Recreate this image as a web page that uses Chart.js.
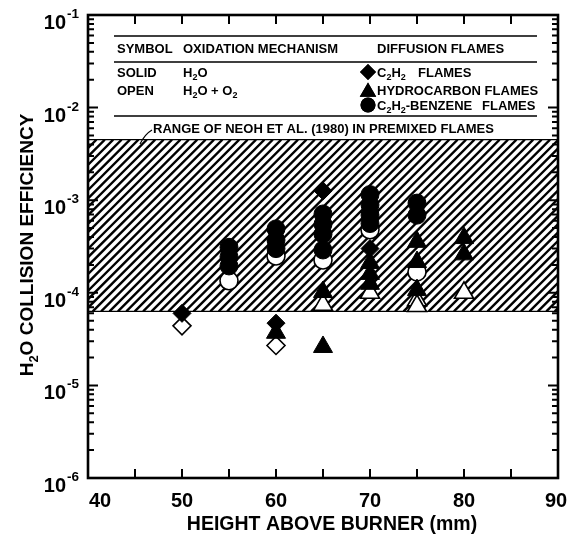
<!DOCTYPE html>
<html>
<head>
<meta charset="utf-8">
<script src="https://cdn.jsdelivr.net/npm/chart.js@4.4.0/dist/chart.umd.min.js"></script>
<style>
  html, body { margin: 0; padding: 0; background: #fff; }
</style>
</head>
<body>
<canvas id="chart" width="576" height="539"></canvas>
<script>
/* Axis ranges and ticks */
const X_RANGE = [40, 90];
const X_LABELS = [40, 50, 60, 70, 80, 90];
const X_TICKS = [45, 50, 55, 60, 65, 70, 75, 80, 85];
const Y_DECADES = [-6, -5, -4, -3, -2, -1];

/* Neoh et al. (1980) premixed-flame range, shown hatched */
const NEOH_RANGE = [6.3e-5, 4.5e-3];

/* C2H2 flames (diamonds) */
const c2h2SolidX = [50, 60, 65, 70];
const c2h2SolidY = [6.0e-5, 4.7e-5, 1.26e-3, 3.0e-4];
const c2h2OpenX = [50, 60];
const c2h2OpenY = [4.4e-5, 2.7e-5];

/* Hydrocarbon flames (triangles) */
const hcSolidX = [60, 65, 65, 70, 70, 70, 75, 75, 75, 80, 80];
const hcSolidY = [3.7e-5, 1.02e-4, 2.6e-5, 2.1e-4, 1.6e-4, 1.25e-4, 3.55e-4, 2.15e-4, 1.07e-4, 3.9e-4, 2.6e-4];
const hcOpenX = [65, 70, 75, 75, 80];
const hcOpenY = [7.4e-5, 1.0e-4, 8.3e-5, 7.2e-5, 1.0e-4];

/* C2H2-benzene flames (circles) */
const bzSolidX = [55, 55, 55, 60, 60, 60, 65, 65, 65, 65, 70, 70, 70, 70, 75, 75];
const bzSolidY = [3.1e-4, 2.45e-4, 1.95e-4, 4.9e-4, 3.7e-4, 3.0e-4, 7.1e-4, 5.5e-4, 4.3e-4, 2.9e-4, 1.15e-3, 8.9e-4, 6.9e-4, 5.6e-4, 9.3e-4, 6.9e-4];
const bzOpenX = [55, 60, 65, 70, 75];
const bzOpenY = [1.35e-4, 2.5e-4, 2.26e-4, 4.8e-4, 1.68e-4];

const FONT = '"Liberation Sans", Arial, sans-serif';

function pts(xs, ys) {
    return xs.map((x, i) => ({ x: x, y: ys[i] }));
}

function series(label, xs, ys, style, radius, solid) {
    return {
        label: label,
        data: pts(xs, ys),
        pointStyle: style,
        pointRadius: radius,
        backgroundColor: solid ? '#000' : '#fff',
        borderColor: '#000',
        borderWidth: solid ? 1 : 1.6,
        showLine: false
    };
}

/* draw text made of parts: [text, 0 normal | 1 subscript | 2 superscript] */
function richText(ctx, x, y, parts, size, align) {
    const small = Math.round(size * 0.68);
    let total = 0;
    parts.forEach(p => {
        ctx.font = `bold ${p[1] ? small : size}px ${FONT}`;
        total += ctx.measureText(p[0]).width;
    });
    let cx = x;
    if (align === 'center') cx = x - total / 2;
    if (align === 'right') cx = x - total;
    ctx.textAlign = 'left';
    ctx.textBaseline = 'alphabetic';
    parts.forEach(p => {
        ctx.font = `bold ${p[1] ? small : size}px ${FONT}`;
        let dy = 0;
        if (p[1] === 1) dy = size * 0.25;
        if (p[1] === 2) dy = -size * 0.45;
        ctx.fillText(p[0], cx, y + dy);
        cx += ctx.measureText(p[0]).width;
    });
}

function marker(ctx, style, x, y, r) {
    ctx.save();
    ctx.fillStyle = '#000';
    Chart.helpers.drawPoint(ctx, { pointStyle: style, radius: r, borderWidth: 0 }, x, y);
    ctx.fill();
    ctx.restore();
}

const paperPlugin = {
    id: 'paper',
    beforeDatasetsDraw(chart) {
        const { ctx, chartArea: a, scales: { y } } = chart;

        /* hatched band */
        const top = y.getPixelForValue(NEOH_RANGE[1]);
        const bot = y.getPixelForValue(NEOH_RANGE[0]);
        const h = bot - top;
        ctx.save();
        ctx.beginPath();
        ctx.rect(a.left, top, a.right - a.left, h);
        ctx.clip();
        ctx.strokeStyle = '#000';
        ctx.lineWidth = 2.4;
        for (let sx = a.left - h; sx < a.right + 10; sx += 8.4) {
            ctx.beginPath();
            ctx.moveTo(sx, bot);
            ctx.lineTo(sx + h, top);
            ctx.stroke();
        }
        ctx.restore();
        ctx.save();
        ctx.strokeStyle = '#000';
        ctx.lineWidth = 1.2;
        ctx.beginPath();
        ctx.moveTo(a.left, top); ctx.lineTo(a.right, top);
        ctx.moveTo(a.left, bot); ctx.lineTo(a.right, bot);
        ctx.stroke();

        /* legend table */
        ctx.fillStyle = '#000';
        ctx.lineWidth = 1.6;
        ctx.beginPath();
        [36, 62, 116].forEach(ry => { ctx.moveTo(114, ry); ctx.lineTo(537, ry); });
        ctx.stroke();

        const fs = 13;
        richText(ctx, 117, 53, [['SYMBOL', 0]], fs, 'left');
        richText(ctx, 183, 53, [['OXIDATION MECHANISM', 0]], fs, 'left');
        richText(ctx, 377, 53, [['DIFFUSION FLAMES', 0]], fs, 'left');

        richText(ctx, 117, 77, [['SOLID', 0]], fs, 'left');
        richText(ctx, 183, 77, [['H', 0], ['2', 1], ['O', 0]], fs, 'left');
        richText(ctx, 117, 95, [['OPEN', 0]], fs, 'left');
        richText(ctx, 183, 95, [['H', 0], ['2', 1], ['O + O', 0], ['2', 1]], fs, 'left');

        marker(ctx, 'rectRot', 368, 72, 8);
        richText(ctx, 377, 77, [['C', 0], ['2', 1], ['H', 0], ['2', 1]], fs, 'left');
        richText(ctx, 418, 77, [['FLAMES', 0]], fs, 'left');
        marker(ctx, 'triangle', 368, 92, 9.5);
        richText(ctx, 377, 95, [['HYDROCARBON FLAMES', 0]], fs, 'left');
        marker(ctx, 'circle', 368, 105, 7.5);
        richText(ctx, 377, 110, [['C', 0], ['2', 1], ['H', 0], ['2', 1], ['-BENZENE', 0]], fs, 'left');
        richText(ctx, 482, 110, [['FLAMES', 0]], fs, 'left');

        richText(ctx, 153, 133, [['RANGE OF NEOH ET AL. (1980) IN PREMIXED FLAMES', 0]], fs, 'left');
        ctx.lineWidth = 1.2;
        ctx.beginPath();
        ctx.moveTo(152, 130);
        ctx.quadraticCurveTo(145, 134, 140, 144);
        ctx.stroke();
        ctx.restore();
    },
    afterDatasetsDraw(chart) {
        const { ctx, chartArea: a, scales: { x, y } } = chart;
        ctx.save();
        ctx.strokeStyle = '#000';
        ctx.fillStyle = '#000';

        /* ticks, pointing inward */
        ctx.lineWidth = 2;
        ctx.beginPath();
        X_TICKS.forEach(v => {
            const px = x.getPixelForValue(v);
            ctx.moveTo(px, a.bottom); ctx.lineTo(px, a.bottom - 9);
            ctx.moveTo(px, a.top); ctx.lineTo(px, a.top + 9);
        });
        Y_DECADES.forEach(d => {
            for (let m = 1; m <= 9; m++) {
                const v = m * Math.pow(10, d);
                if (d === -1 && m > 1) break;
                const py = y.getPixelForValue(v);
                const len = m === 1 ? 10 : 6;
                ctx.moveTo(a.left, py); ctx.lineTo(a.left + len, py);
                ctx.moveTo(a.right, py); ctx.lineTo(a.right - len, py);
            }
        });
        ctx.stroke();

        /* frame */
        ctx.lineWidth = 2.6;
        ctx.strokeRect(a.left, a.top, a.right - a.left, a.bottom - a.top);

        /* tick labels */
        Y_DECADES.forEach(d => {
            const py = y.getPixelForValue(Math.pow(10, d));
            richText(ctx, 66, py + 14, [['10', 0]], 20, 'right');
            richText(ctx, 67, py + 3, [[String(d), 0]], 13.5, 'left');
        });
        X_LABELS.forEach(v => {
            let px = x.getPixelForValue(v);
            if (v === X_RANGE[0]) px += 12;
            if (v === X_RANGE[1]) px -= 2;
            richText(ctx, px, 507, [[String(v), 0]], 20, 'center');
        });

        /* axis titles */
        richText(ctx, 332, 530, [['HEIGHT ABOVE BURNER (mm)', 0]], 19.5, 'center');
        ctx.save();
        ctx.translate(33, 245);
        ctx.rotate(-Math.PI / 2);
        richText(ctx, 0, 0, [['H', 0], ['2', 1], ['O COLLISION EFFICIENCY', 0]], 19, 'center');
        ctx.restore();
        ctx.restore();
    }
};

new Chart(document.getElementById('chart'), {
    type: 'scatter',
    data: {
        datasets: [
            series('C2H2 solid', c2h2SolidX, c2h2SolidY, 'rectRot', 9, true),
            series('Hydrocarbon solid', hcSolidX, hcSolidY, 'triangle', 11, true),
            series('C2H2-benzene solid', bzSolidX, bzSolidY, 'circle', 9, true),
            series('C2H2 open', c2h2OpenX, c2h2OpenY, 'rectRot', 9, false),
            series('Hydrocarbon open', hcOpenX, hcOpenY, 'triangle', 11, false),
            series('C2H2-benzene open', bzOpenX, bzOpenY, 'circle', 9, false)
        ]
    },
    options: {
        responsive: false,
        animation: false,
        events: [],
        layout: { padding: { left: 88, right: 18, top: 15, bottom: 61 } },
        scales: {
            x: { type: 'linear', min: X_RANGE[0], max: X_RANGE[1], display: false },
            y: { type: 'logarithmic', min: 1e-6, max: 1e-1, display: false }
        },
        plugins: {
            legend: { display: false },
            tooltip: { enabled: false }
        }
    },
    plugins: [paperPlugin]
});
</script>
</body>
</html>
